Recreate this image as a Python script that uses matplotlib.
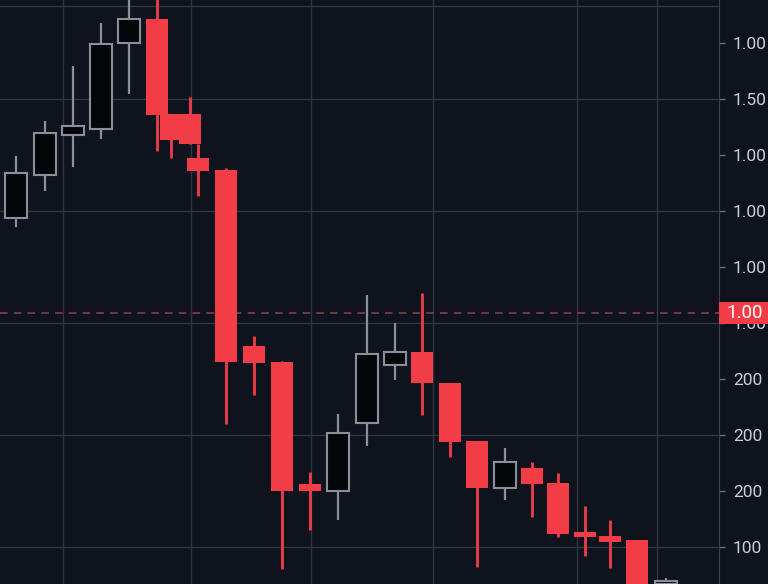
import matplotlib
matplotlib.use("Agg")
import matplotlib.pyplot as plt
from matplotlib.patches import Rectangle
from matplotlib.transforms import blended_transform_factory
import numpy as np

# candle positions (bar index) and OHLC values
times = [0.00, 1.05, 2.07, 3.08, 4.09, 5.11, 5.62, 6.30, 6.59, 7.61,
         8.62, 9.64, 10.65, 11.67, 12.72, 13.73, 14.71, 15.72, 16.70, 17.72,
         18.70, 19.64, 20.62, 21.52, 22.50, 23.55]
opens = [6.88, 7.64, 8.36, 8.46, 10.00, 10.43, 8.73, 8.73, 7.95, 7.73,
         4.59, 4.30, 2.13, 2.00, 3.21, 4.25, 4.48, 3.93, 2.89, 2.05,
         2.41, 2.14, 1.27, 1.20, 1.13, 0.34]
highs = [7.98, 8.61, 9.59, 10.36, 10.95, 10.95, 8.73, 9.04, 8.20, 7.77,
         4.77, 4.32, 2.34, 3.38, 5.50, 5.00, 5.54, 3.93, 2.89, 2.77,
         2.52, 2.32, 1.73, 1.48, 1.13, 0.45]
lows = [6.71, 7.36, 7.79, 8.29, 9.09, 8.07, 7.95, 8.20, 7.27, 3.20,
        3.71, 0.61, 1.30, 1.48, 2.80, 3.98, 3.36, 2.61, 0.64, 1.84,
        1.54, 1.18, 0.84, 0.63, -0.13, 0.05]
closes = [7.68, 8.39, 8.52, 9.98, 10.43, 8.71, 8.27, 8.20, 7.71, 4.30,
          4.29, 2.00, 2.00, 3.04, 4.45, 4.48, 3.93, 2.88, 2.05, 2.52,
          2.13, 1.23, 1.18, 1.09, 0.05, 0.39]

# right axis ticks as printed in the chart
tick_values = [1, 2, 3, 4, 5, 6, 7, 8, 9, 10]
tick_labels = ["100", "200", "200", "200", "1.00", "1.00", "1.00", "1.00", "1.50", "1.00"]

last_price = 5.18
last_label = "1.00"

# time grid columns
time_grid = [1.70, 6.34, 10.69, 15.11, 20.33, 23.22]

bg = "#0e131e"
grid_col = "#2f3541"
up_edge = "#8a8f99"
up_face = "#04060a"
down_col = "#f23c46"
text_col = "#c9cdd4"

fig = plt.figure(figsize=(7.68, 5.84), dpi=100)
fig.patch.set_facecolor(bg)
ax = fig.add_axes([0, 0, 719 / 768, 1])
ax.set_facecolor(bg)

ax.set_xlim(-0.58, 25.47)
ax.set_ylim(0.34, 10.77)

# grid
for v in time_grid:
    ax.axvline(v, color=grid_col, lw=1, zorder=0)
for v in tick_values[::2]:
    ax.axhline(v, color=grid_col, lw=1, zorder=0)
ax.axhline(10.66, color=grid_col, lw=1, zorder=0)

ax.axhline(last_price, color="#9a3e4a", lw=1.1, dashes=(5, 4), zorder=1)

opens = np.array(opens)
closes = np.array(closes)
up = closes >= opens
width = 0.8

for t, o, h, l, c, u in zip(times, opens, highs, lows, closes, up):
    if u:
        ax.vlines(t, l, h, color=up_edge, lw=1.6, zorder=2)
        ax.bar(t, c - o, bottom=o, width=width, color=up_face,
               edgecolor=up_edge, linewidth=1.5, zorder=3)
    else:
        ax.vlines(t, l, h, color=down_col, lw=2, zorder=2)
        ax.bar(t, o - c, bottom=c, width=width, color=down_col,
               edgecolor="none", zorder=3)

ax.yaxis.tick_right()
ax.set_yticks(tick_values)
ax.set_yticklabels(tick_labels, fontfamily="Roboto", fontsize=12.5, color=text_col)
ax.tick_params(axis="y", length=4, width=1, color="#6a707b", pad=6)
ax.set_xticks([])

for side in ["left", "top", "bottom"]:
    ax.spines[side].set_visible(False)
ax.spines["right"].set_color("#3a404c")

# last price tag on the axis
tr = blended_transform_factory(fig.transFigure, ax.transData)
fig.patches.append(Rectangle((719 / 768, last_price - 0.2), 49 / 768, 0.4,
                             transform=tr, facecolor=down_col, edgecolor="none"))
fig.text(745 / 768, last_price, last_label, transform=tr, ha="center", va="center",
         fontfamily="Roboto", fontsize=13.5, color="white")

fig.savefig("out.png", dpi=100, facecolor=bg)
